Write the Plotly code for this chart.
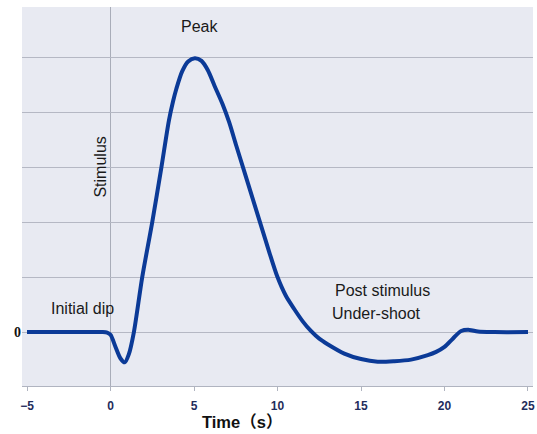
import plotly.graph_objects as go

# Data
time_s = [-5, -1, -0.5, -0.2, 0, 0.3, 0.6, 0.85, 1.1, 1.4, 1.9, 2.5, 3.05, 3.5, 3.75,
          3.94, 4.29, 4.65, 5.05, 5.45, 5.83, 6.24, 6.7, 7.1, 7.5, 8.0, 8.5, 9.0, 9.5,
          10.0, 10.5, 11.0, 11.5, 12.0, 12.5, 13.0, 14.0, 15.0, 16.0, 17.0, 18.0, 19.0,
          19.5, 20.0, 20.5, 21.0, 21.5, 22.0, 23.0, 25.0]
signal = [0, 0, 0, -0.01, -0.05, -0.27, -0.48, -0.55, -0.4, 0, 1, 2, 3, 3.85, 4.2,
          4.42, 4.74, 4.92, 4.98, 4.93, 4.76, 4.47, 4.15, 3.82, 3.42, 2.93, 2.44, 1.95, 1.46,
          1.0, 0.66, 0.42, 0.2, 0.02, -0.12, -0.22, -0.39, -0.49, -0.54, -0.53, -0.5, -0.42,
          -0.36, -0.27, -0.12, 0.02, 0.04, 0.01, 0, 0]
x_ticks = [-5, 0, 5, 10, 15, 20, 25]
y_ticks = [0, 1, 2, 3, 4, 5]
y_ticktext = ["0", "", "", "", "", ""]
stimulus_t = 0

fig = go.Figure()
fig.add_trace(go.Scatter(
    x=time_s, y=signal, mode="lines",
    line=dict(color="#0b3a97", width=4, shape="spline", smoothing=0.8),
    hoverinfo="skip", showlegend=False,
))

fig.add_shape(type="line", xref="x", yref="paper", x0=stimulus_t, x1=stimulus_t, y0=0, y1=1,
              line=dict(color="#a9adb9", width=1), layer="below")

ann_font = dict(family="Liberation Sans, Arial, sans-serif", size=16, color="#1a1a1a")
fig.add_annotation(x=5.3, y=5.55, text="Peak", showarrow=False, font=ann_font)
fig.add_annotation(x=-0.6, y=3.0, text="Stimulus", textangle=-90, showarrow=False, font=ann_font)
fig.add_annotation(x=-1.7, y=0.43, text="Initial dip", showarrow=False, font=ann_font)
fig.add_annotation(x=16.3, y=0.76, text="Post stimulus", showarrow=False, font=ann_font)
fig.add_annotation(x=15.9, y=0.34, text="Under-shoot", showarrow=False, font=ann_font)
fig.add_annotation(xref="paper", yref="paper", x=0.43, y=-0.095, yanchor="middle",
                   text="Time（s）", showarrow=False,
                   font=dict(family="Liberation Sans, Noto Sans CJK SC, sans-serif", size=16.5,
                             color="#111111", weight="bold"))

fig.update_layout(
    width=537, height=434,
    margin=dict(l=22, r=4, t=7, b=48),
    paper_bgcolor="white",
    plot_bgcolor="#e8eaf2",
    xaxis=dict(range=[-5.3, 25.3], tickvals=x_ticks, showgrid=False, zeroline=False,
               showline=True, linecolor="#b0b4c0", linewidth=1,
               ticks="outside", ticklen=4, tickcolor="#b0b4c0",
               ticklabeloverflow="allow", automargin=False,
               tickfont=dict(family="Liberation Sans, Arial, sans-serif", size=12,
                             color="#1f2d5c", weight="bold"),
               ticklabelstandoff=5),
    yaxis=dict(range=[-0.98, 5.91], tickvals=y_ticks, ticktext=y_ticktext,
               showgrid=True, gridcolor="#b5b8c4", gridwidth=1, zeroline=False,
               showline=False, ticks="", automargin=False,
               tickfont=dict(family="Liberation Serif, Times New Roman, serif", size=14,
                             color="#111111", weight="bold")),
)

fig.write_html("out.html")
